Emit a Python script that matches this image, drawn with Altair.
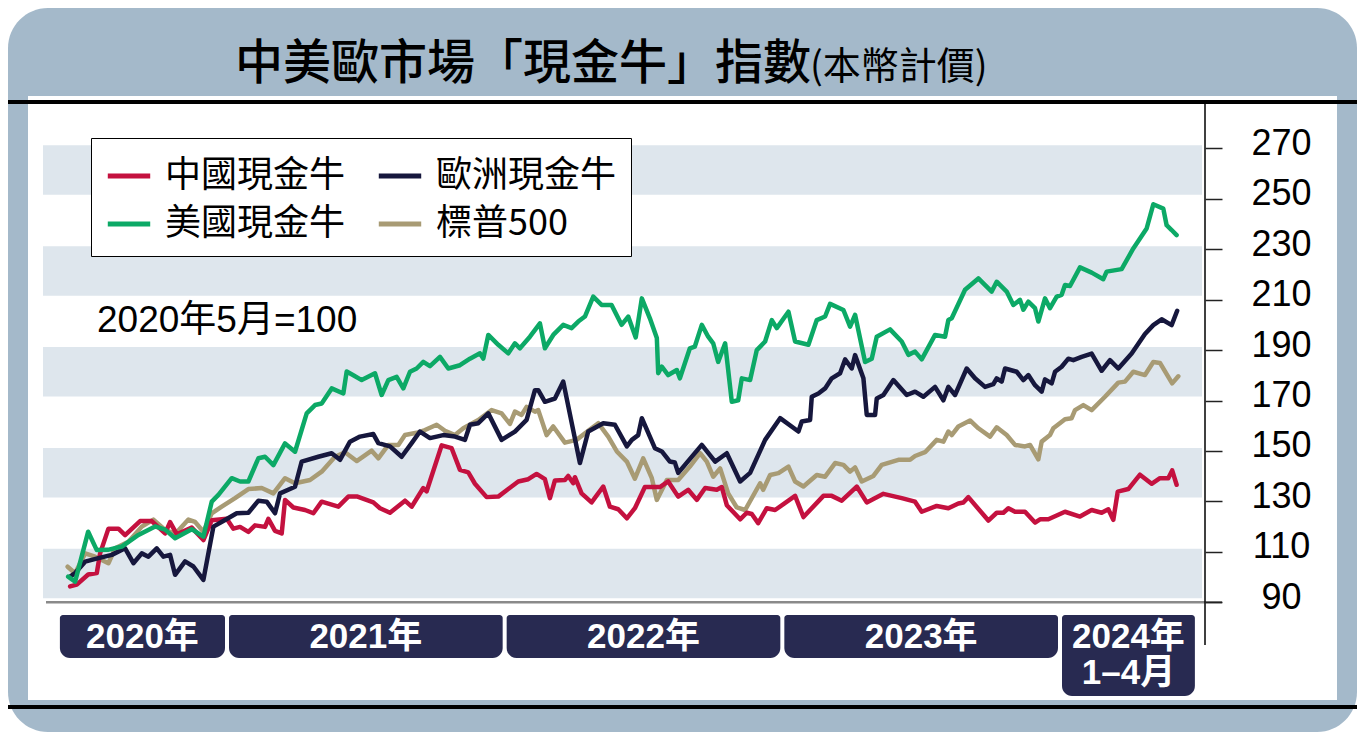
import altair as alt
import pandas as pd

W, H = 1349, 724

# ---------------- data (index, 2020年5月 = 100), x = fractional year ----------------
us_t = [2020.428, 2020.453, 2020.500, 2020.531, 2020.571, 2020.621, 2020.681, 2020.741, 2020.777, 2020.813,
        2020.873, 2020.915, 2020.945, 2020.969, 2021.017, 2021.047, 2021.077, 2021.113, 2021.137, 2021.167,
        2021.209, 2021.245, 2021.287, 2021.317, 2021.341, 2021.377, 2021.419, 2021.431, 2021.455, 2021.485,
        2021.533, 2021.557, 2021.581, 2021.611, 2021.635, 2021.659, 2021.683, 2021.707, 2021.731, 2021.767,
        2021.797, 2021.839, 2021.875, 2021.911, 2021.923, 2021.941, 2021.977, 2022.013, 2022.037, 2022.055,
        2022.091, 2022.127, 2022.145, 2022.175, 2022.211, 2022.241, 2022.265, 2022.289, 2022.319, 2022.349,
        2022.385, 2022.421, 2022.445, 2022.472, 2022.494, 2022.523, 2022.548, 2022.553, 2022.566, 2022.589,
        2022.620, 2022.631, 2022.667, 2022.685, 2022.710, 2022.733, 2022.751, 2022.769, 2022.794, 2022.818,
        2022.841, 2022.854, 2022.884, 2022.908, 2022.938, 2022.962, 2022.980, 2023.022, 2023.046, 2023.094,
        2023.124, 2023.154, 2023.172, 2023.220, 2023.244, 2023.262, 2023.298, 2023.322, 2023.340, 2023.388,
        2023.430, 2023.454, 2023.478, 2023.502, 2023.550, 2023.586, 2023.598, 2023.610, 2023.658, 2023.706,
        2023.754, 2023.772, 2023.808, 2023.832, 2023.856, 2023.868, 2023.886, 2023.910, 2023.922, 2023.946,
        2023.964, 2023.988, 2024.006, 2024.018, 2024.036, 2024.072, 2024.114, 2024.156, 2024.168, 2024.222,
        2024.264, 2024.312, 2024.336, 2024.372, 2024.384, 2024.402, 2024.420]
us_v = [100.2, 98.2, 118.0, 110.7, 110.8, 112.1, 116.7, 120.1, 118.8, 115.4,
        119.0, 116.0, 129.9, 132.6, 139.2, 137.9, 137.9, 147.1, 147.7, 144.4,
        153.0, 149.7, 164.9, 168.2, 168.8, 174.8, 172.8, 181.5, 180.0, 178.1,
        180.8, 172.2, 178.1, 179.4, 174.8, 181.4, 182.7, 185.3, 183.6, 187.3,
        182.7, 184.0, 186.6, 188.7, 186.6, 196.0, 192.1, 188.7, 192.7, 190.7,
        195.3, 200.6, 190.7, 196.0, 200.0, 198.7, 201.3, 203.3, 211.2, 207.9,
        207.9, 200.0, 203.3, 195.0, 210.5, 202.6, 194.8, 180.8, 183.4, 180.1,
        182.1, 178.8, 190.7, 191.4, 200.0, 195.3, 192.7, 185.3, 192.7, 169.5,
        170.1, 178.8, 178.1, 190.0, 193.4, 201.9, 198.7, 205.2, 193.4, 192.1,
        201.9, 203.3, 208.3, 205.9, 199.3, 204.0, 185.3, 186.6, 195.3, 198.2,
        193.4, 188.1, 189.4, 186.3, 196.0, 195.3, 201.9, 202.6, 213.9, 218.4,
        213.2, 217.1, 213.2, 207.9, 209.9, 206.0, 209.2, 206.6, 201.3, 210.5,
        206.6, 211.2, 211.9, 215.8, 215.4, 222.8, 220.7, 218.1, 221.1, 222.1,
        230.3, 238.2, 247.8, 246.1, 239.5, 237.6, 235.6]

eu_t = [2020.435, 2020.453, 2020.489, 2020.537, 2020.585, 2020.633, 2020.663, 2020.693, 2020.717, 2020.747,
        2020.771, 2020.795, 2020.813, 2020.849, 2020.879, 2020.915, 2020.951, 2020.993, 2021.035, 2021.077,
        2021.113, 2021.143, 2021.173, 2021.191, 2021.245, 2021.269, 2021.329, 2021.377, 2021.407, 2021.443,
        2021.479, 2021.527, 2021.545, 2021.587, 2021.629, 2021.665, 2021.695, 2021.731, 2021.779, 2021.821,
        2021.857, 2021.875, 2021.905, 2021.941, 2021.989, 2022.037, 2022.079, 2022.109, 2022.121, 2022.145,
        2022.181, 2022.211, 2022.271, 2022.301, 2022.355, 2022.397, 2022.440, 2022.458, 2022.481, 2022.494,
        2022.541, 2022.566, 2022.595, 2022.613, 2022.625, 2022.710, 2022.758, 2022.800, 2022.848, 2022.884,
        2022.938, 2022.992, 2023.058, 2023.070, 2023.100, 2023.106, 2023.130, 2023.154, 2023.178, 2023.208,
        2023.226, 2023.250, 2023.262, 2023.292, 2023.304, 2023.334, 2023.340, 2023.364, 2023.400, 2023.448,
        2023.478, 2023.508, 2023.550, 2023.580, 2023.598, 2023.622, 2023.664, 2023.694, 2023.730, 2023.760,
        2023.772, 2023.790, 2023.802, 2023.844, 2023.868, 2023.886, 2023.910, 2023.934, 2023.946, 2023.970,
        2023.982, 2024.006, 2024.030, 2024.048, 2024.078, 2024.114, 2024.150, 2024.180, 2024.210, 2024.258,
        2024.306, 2024.336, 2024.366, 2024.402, 2024.422]
eu_v = [100.2, 101.6, 106.1, 107.5, 108.8, 111.4, 105.5, 109.4, 108.1, 111.4,
        108.1, 108.8, 100.9, 106.2, 104.2, 98.9, 120.0, 122.6, 125.3, 125.5,
        130.3, 129.9, 125.3, 133.2, 135.8, 145.8, 147.7, 149.1, 146.5, 153.7,
        155.7, 156.7, 153.1, 151.8, 147.7, 153.1, 157.7, 155.1, 156.3, 155.7,
        154.4, 160.4, 161.0, 164.9, 154.4, 157.7, 162.3, 174.1, 174.1, 169.5,
        170.8, 177.5, 145.2, 157.7, 161.0, 160.4, 151.8, 154.4, 156.3, 163.0,
        151.1, 149.8, 145.8, 145.4, 141.3, 152.4, 145.8, 149.1, 137.9, 141.3,
        154.4, 163.0, 157.7, 161.7, 162.3, 171.5, 172.8, 174.8, 178.8, 180.8,
        186.3, 182.7, 188.0, 178.8, 164.3, 164.3, 170.8, 172.2, 178.1, 172.2,
        173.5, 171.5, 175.4, 170.1, 175.4, 172.2, 182.7, 178.8, 175.4, 176.5,
        178.8, 177.5, 182.7, 181.4, 178.1, 180.1, 176.1, 173.5, 178.4, 176.8,
        181.4, 183.4, 186.6, 186.0, 187.3, 188.6, 181.8, 186.0, 182.7, 188.6,
        196.4, 199.9, 202.2, 199.9, 205.6]

sp_t = [2020.426, 2020.453, 2020.489, 2020.525, 2020.573, 2020.597, 2020.645, 2020.693, 2020.735, 2020.777,
        2020.813, 2020.861, 2020.885, 2020.915, 2020.945, 2020.981, 2021.029, 2021.077, 2021.125, 2021.167,
        2021.209, 2021.245, 2021.299, 2021.341, 2021.389, 2021.425, 2021.467, 2021.521, 2021.545, 2021.581,
        2021.617, 2021.641, 2021.683, 2021.713, 2021.755, 2021.785, 2021.821, 2021.851, 2021.905, 2021.953,
        2021.989, 2022.019, 2022.037, 2022.061, 2022.079, 2022.109, 2022.121, 2022.151, 2022.175, 2022.217,
        2022.259, 2022.301, 2022.337, 2022.373, 2022.404, 2022.440, 2022.469, 2022.499, 2022.530, 2022.548,
        2022.584, 2022.625, 2022.667, 2022.704, 2022.728, 2022.751, 2022.776, 2022.805, 2022.836, 2022.866,
        2022.920, 2022.931, 2022.956, 2022.986, 2023.022, 2023.046, 2023.076, 2023.124, 2023.154, 2023.190,
        2023.220, 2023.244, 2023.262, 2023.286, 2023.328, 2023.358, 2023.418, 2023.460, 2023.478, 2023.514,
        2023.556, 2023.580, 2023.598, 2023.610, 2023.634, 2023.676, 2023.706, 2023.748, 2023.772, 2023.808,
        2023.838, 2023.874, 2023.892, 2023.922, 2023.934, 2023.964, 2023.976, 2024.018, 2024.042, 2024.054,
        2024.084, 2024.114, 2024.162, 2024.210, 2024.234, 2024.264, 2024.306, 2024.336, 2024.360, 2024.404,
        2024.426]
sp_v = [104.1, 101.5, 109.4, 108.1, 105.5, 111.4, 114.0, 120.0, 122.8, 118.7,
        117.1, 122.8, 121.9, 118.0, 125.3, 127.9, 131.3, 134.9, 135.3, 133.2,
        139.2, 137.2, 138.5, 141.8, 147.7, 149.5, 146.0, 150.1, 147.1, 152.4,
        152.4, 156.3, 157.2, 158.3, 160.4, 158.0, 156.3, 159.0, 162.3, 166.2,
        164.9, 160.7, 165.6, 164.3, 167.5, 165.6, 166.2, 156.3, 159.7, 153.3,
        154.4, 158.0, 161.0, 155.7, 149.8, 145.8, 139.0, 147.1, 139.2, 130.6,
        138.5, 138.5, 143.8, 149.1, 145.8, 139.8, 143.1, 133.2, 127.6, 126.6,
        137.2, 134.6, 140.5, 141.2, 143.8, 137.9, 135.9, 140.5, 139.8, 145.2,
        144.5, 141.8, 143.5, 137.9, 140.1, 144.5, 146.5, 146.5, 148.0, 149.5,
        154.4, 153.7, 157.7, 156.3, 159.7, 162.1, 159.0, 155.7, 159.4, 156.3,
        152.4, 151.8, 152.4, 146.7, 153.7, 156.3, 159.0, 162.6, 163.0, 166.2,
        168.2, 166.2, 171.5, 177.1, 177.5, 181.4, 180.1, 185.3, 184.9, 176.8,
        179.6]

cn_t = [2020.435, 2020.459, 2020.500, 2020.531, 2020.543, 2020.573, 2020.609, 2020.633, 2020.687, 2020.729,
        2020.777, 2020.795, 2020.819, 2020.873, 2020.915, 2020.945, 2020.999, 2021.023, 2021.047, 2021.077,
        2021.101, 2021.137, 2021.149, 2021.173, 2021.197, 2021.209, 2021.239, 2021.281, 2021.311, 2021.341,
        2021.401, 2021.437, 2021.470, 2021.527, 2021.551, 2021.587, 2021.641, 2021.665, 2021.707, 2021.719,
        2021.773, 2021.809, 2021.839, 2021.869, 2021.893, 2021.935, 2021.977, 2022.013, 2022.049, 2022.085,
        2022.115, 2022.145, 2022.163, 2022.181, 2022.217, 2022.229, 2022.247, 2022.253, 2022.277, 2022.313,
        2022.355, 2022.379, 2022.409, 2022.440, 2022.469, 2022.505, 2022.559, 2022.589, 2022.625, 2022.661,
        2022.692, 2022.722, 2022.764, 2022.782, 2022.800, 2022.848, 2022.872, 2022.890, 2022.913, 2022.944,
        2022.974, 2023.046, 2023.076, 2023.148, 2023.178, 2023.214, 2023.268, 2023.304, 2023.364, 2023.430,
        2023.478, 2023.502, 2023.556, 2023.598, 2023.634, 2023.652, 2023.670, 2023.742, 2023.772, 2023.796,
        2023.814, 2023.838, 2023.874, 2023.910, 2023.928, 2023.958, 2024.018, 2024.072, 2024.114, 2024.150,
        2024.174, 2024.192, 2024.208, 2024.246, 2024.288, 2024.330, 2024.360, 2024.390, 2024.404, 2024.420]
cn_v = [96.3, 97.0, 101.0, 101.6, 109.4, 119.2, 119.2, 116.6, 122.2, 122.2,
        117.3, 121.8, 117.0, 119.6, 114.7, 122.5, 123.1, 119.2, 119.9, 117.9,
        120.5, 119.9, 123.1, 118.3, 117.3, 130.6, 127.6, 126.6, 125.3, 129.9,
        127.9, 131.9, 131.9, 129.6, 127.3, 125.5, 130.3, 127.9, 135.3, 134.0,
        152.2, 151.1, 142.5, 141.5, 137.0, 131.7, 131.9, 134.9, 137.9, 138.8,
        140.9, 138.8, 131.3, 138.3, 138.5, 140.1, 137.2, 139.6, 133.2, 129.6,
        135.9, 127.9, 126.9, 123.3, 127.3, 135.7, 135.7, 137.9, 131.9, 134.6,
        130.6, 135.3, 134.6, 135.7, 128.5, 122.9, 125.5, 125.0, 121.4, 127.3,
        126.6, 132.2, 123.8, 132.2, 132.2, 130.3, 135.9, 129.6, 133.0, 131.3,
        129.9, 125.9, 128.2, 127.3, 129.2, 129.6, 131.7, 122.4, 125.5, 125.5,
        127.3, 125.9, 125.9, 121.6, 122.9, 122.9, 125.9, 124.0, 126.6, 125.5,
        126.9, 122.7, 133.9, 134.9, 140.6, 137.0, 139.2, 139.2, 142.3, 136.6]

# legend order (filled column by column): 中國 / 美國 , 歐洲 / 標普
series_names = ["中國現金牛", "美國現金牛", "歐洲現金牛", "標普500"]
series_colors = ["#C4113F", "#0CA966", "#16173D", "#A89B74"]

tick_values = [90, 110, 130, 150, 170, 190, 210, 230, 250, 270]
band_lo = [90, 130, 170, 210, 250]
band_hi = [110, 150, 190, 230, 270]

year_start = [2020.391, 2021.0, 2022.0, 2023.0, 2024.0]
year_end = [2021.0, 2022.0, 2023.0, 2024.0, 2024.493]
year_label = ["2020年", "2021年", "2022年", "2023年", "2024年\n1–4月"]
year_tall = [0, 0, 0, 0, 1]

title_main = "中美歐市場「現金牛」指數"
title_sub = "(本幣計價)"
base_note = "2020年5月=100"

# ---------------- styling ----------------
FRAME = "#A4B9CA"
BAND = "#DEE6ED"
BOX = "#282A51"
CJK = "Noto Sans CJK TC"
LAT = "Liberation Sans, Arial, Noto Sans CJK TC"

# ---------------- tables ----------------
rows = []
for name, ts, vs in [("標普500", sp_t, sp_v), ("中國現金牛", cn_t, cn_v),
                     ("歐洲現金牛", eu_t, eu_v), ("美國現金牛", us_t, us_v)]:
    for t, v in zip(ts, vs):
        rows.append({"series": name, "t": t, "v": v})
lines_df = pd.DataFrame(rows)
bands_df = pd.DataFrame({"lo": band_lo, "hi": band_hi})
years_df = pd.DataFrame({"start": year_start, "end": year_end, "label": year_label, "tall": year_tall})
one = pd.DataFrame({"k": [0]})

xs = alt.Scale(domain=[2021, 2024], range=[219, 1052], nice=False, zero=False)
ys = alt.Scale(domain=[90, 270], range=[594.3, 140.3], nice=False, zero=False)
yaxis = alt.Axis(orient="right", offset=-152, values=tick_values, domain=False,
                 ticks=True, tickSize=17, tickWidth=1.5, tickColor="#222222",
                 labelFontSize=36, labelFont=LAT, labelColor="black",
                 labelAlign="center", labelBaseline="middle", labelPadding=59,
                 labelOffset=-5, labelFlush=False, labelOverlap=False,
                 grid=False, title=None, zindex=1)

# ---------------- frame ----------------
frame = alt.Chart(one).mark_rect(color=FRAME, cornerRadius=40).encode(
    x=alt.value(0), x2=alt.value(W), y=alt.value(0), y2=alt.value(H))
inner = alt.Chart(one).mark_rect(color="white").encode(
    x=alt.value(20), x2=alt.value(1329), y=alt.value(88), y2=alt.value(692))
top_rule = alt.Chart(one).mark_rule(color="black", strokeWidth=4).encode(
    x=alt.value(0), x2=alt.value(W), y=alt.value(94))
bot_rule = alt.Chart(one).mark_rule(color="black", strokeWidth=4).encode(
    x=alt.value(0), x2=alt.value(W), y=alt.value(699))

# ---------------- plot furniture ----------------
bands = alt.Chart(bands_df).mark_rect(color=BAND, yOffset=-4, y2Offset=-3).encode(
    x=alt.value(35), x2=alt.value(1194),
    y=alt.Y("lo:Q", scale=ys, axis=yaxis), y2="hi:Q")
base = alt.Chart(one).mark_rule(color="#8A8A8A", strokeWidth=2.5).encode(
    x=alt.value(38), x2=alt.value(1214),
    y=alt.Y(datum=90, type="quantitative", scale=ys, axis=yaxis))
vaxis = alt.Chart(one).mark_rule(color="black", strokeWidth=1.5).encode(
    x=alt.value(1197), y=alt.value(92), y2=alt.value(637))

# ---------------- lines ----------------
lines = alt.Chart(lines_df).mark_line(strokeWidth=4.5, strokeJoin="round", strokeCap="round").encode(
    x=alt.X("t:Q", scale=xs, axis=None),
    y=alt.Y("v:Q", scale=ys, axis=yaxis),
    color=alt.Color("series:N",
                    scale=alt.Scale(domain=series_names, range=series_colors),
                    legend=alt.Legend(orient="none", legendX=83, legendY=130, columns=2,
                                      title=None, symbolType="stroke", symbolStrokeWidth=5,
                                      symbolSize=1800, labelFontSize=36, labelFont=CJK,
                                      labelColor="black", labelOffset=12, labelLimit=400,
                                      columnPadding=22, rowPadding=6, padding=14,
                                      strokeColor="black", fillColor="white", zindex=1)),
    detail="series:N")

# ---------------- texts ----------------
note = alt.Chart(one).mark_text(text=base_note, font=LAT, fontSize=37, align="left",
                                baseline="middle", color="black").encode(
    x=alt.value(89), y=alt.value(313))
t1 = alt.Chart(one).mark_text(text=title_main, font=CJK, fontSize=48, fontWeight=500,
                              align="left", baseline="alphabetic", color="black").encode(
    x=alt.value(227), y=alt.value(71))
t2 = alt.Chart(one).mark_text(text=title_sub, font=CJK, fontSize=38, fontWeight="normal",
                              align="left", baseline="alphabetic", color="black").encode(
    x=alt.value(802), y=alt.value(71))

# ---------------- year boxes ----------------
box_common = dict(color=BOX, cornerRadiusBottomLeft=10, cornerRadiusBottomRight=10,
                  cornerRadiusTopLeft=3, cornerRadiusTopRight=3, xOffset=2, x2Offset=-2)
boxes_short = alt.Chart(years_df).transform_filter("datum.tall == 0").mark_rect(**box_common).encode(
    x=alt.X("start:Q", scale=xs, axis=None), x2="end:Q",
    y=alt.value(607), y2=alt.value(650))
boxes_tall = alt.Chart(years_df).transform_filter("datum.tall == 1").mark_rect(**box_common).encode(
    x=alt.X("start:Q", scale=xs, axis=None), x2="end:Q",
    y=alt.value(607), y2=alt.value(688))
box_text = alt.Chart(years_df).transform_calculate(mid="(datum.start + datum.end) / 2").mark_text(
    font=LAT, fontSize=35, fontWeight="bold", color="white", align="center",
    baseline="top", lineBreak="\n", lineHeight=36).encode(
    x=alt.X("mid:Q", scale=xs, axis=None), y=alt.value(612), text="label:N")

chart = alt.layer(
    frame, inner, top_rule, bot_rule, bands, base, vaxis, lines, note, t1, t2,
    boxes_short, boxes_tall, box_text
).properties(
    width=W, height=H, padding=0,
    autosize=alt.AutoSizeParams(type="none"), background="white"
).configure_view(strokeWidth=0)

chart.save("out.html", embed_options={"renderer": "svg", "actions": False})
